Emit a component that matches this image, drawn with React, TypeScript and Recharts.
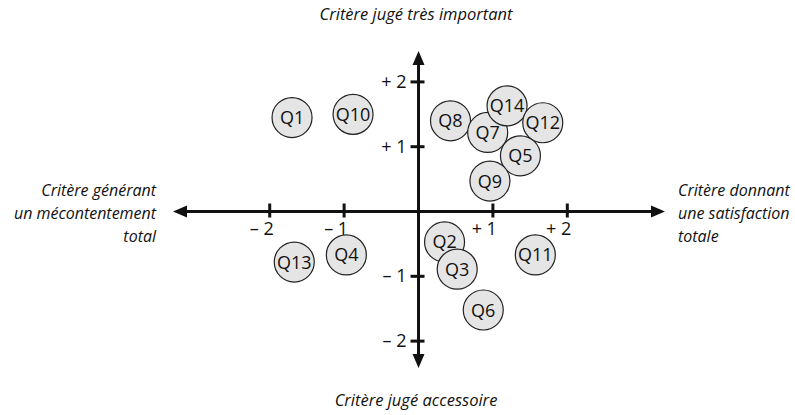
import { ScatterChart, Scatter, XAxis, YAxis, ReferenceLine } from 'recharts'

// Positions des critères (satisfaction en x, importance en y)
const questions = ['Q1', 'Q10', 'Q13', 'Q4', 'Q8', 'Q7', 'Q14', 'Q12', 'Q5', 'Q9', 'Q2', 'Q3', 'Q11', 'Q6']
const satisfaction = [-1.7, -0.88, -1.67, -0.97, 0.43, 0.93, 1.19, 1.67, 1.37, 0.96, 0.35, 0.52, 1.57, 0.87]
const importance = [1.45, 1.5, -0.78, -0.67, 1.4, 1.22, 1.63, 1.37, 0.86, 0.47, -0.47, -0.89, -0.67, -1.52]

const xTickValues = [-2, -1, 1, 2]
const xTickLabels = ['– 2', '– 1', '+ 1', '+ 2']
const yTickValues = [2, 1, -1, -2]
const yTickLabels = ['+ 2', '+ 1', '– 1', '– 2']

const FONT = '"Open Sans", "Noto Sans", sans-serif'
const INK = '#111'

const points = questions.map((q, i) => ({ q, x: satisfaction[i], y: importance[i] }))
const xTicks = xTickValues.map((v, i) => ({ x: v, y: 0, label: xTickLabels[i] }))
const yTicks = yTickValues.map((v, i) => ({ x: 0, y: v, label: yTickLabels[i] }))

interface LineShapeProps {
  x1: number
  y1: number
  x2: number
  y2: number
}

interface PointShapeProps {
  cx: number
  cy: number
  payload: { q?: string; label?: string }
}

const ARROW = 14
const HALF = 6

function HorizontalAxis({ x1, y1, x2 }: LineShapeProps) {
  return (
    <g>
      <line x1={x1 + ARROW - 2} y1={y1} x2={x2 - ARROW + 2} y2={y1} stroke={INK} strokeWidth={3} />
      <polygon points={`${x1},${y1} ${x1 + ARROW},${y1 - HALF} ${x1 + ARROW},${y1 + HALF}`} fill={INK} />
      <polygon points={`${x2},${y1} ${x2 - ARROW},${y1 - HALF} ${x2 - ARROW},${y1 + HALF}`} fill={INK} />
    </g>
  )
}

function VerticalAxis({ x1, y1, y2 }: LineShapeProps) {
  const top = Math.min(y1, y2)
  const bottom = Math.max(y1, y2)
  return (
    <g>
      <line x1={x1} y1={top + ARROW - 2} x2={x1} y2={bottom - ARROW + 2} stroke={INK} strokeWidth={3} />
      <polygon points={`${x1},${top} ${x1 - HALF},${top + ARROW} ${x1 + HALF},${top + ARROW}`} fill={INK} />
      <polygon points={`${x1},${bottom} ${x1 - HALF},${bottom - ARROW} ${x1 + HALF},${bottom - ARROW}`} fill={INK} />
    </g>
  )
}

function XTick({ cx, cy, payload }: PointShapeProps) {
  return (
    <g>
      <line x1={cx} y1={cy - 8} x2={cx} y2={cy + 6} stroke={INK} strokeWidth={3} />
      <text x={cx + 4} y={cy + 23.5} textAnchor="end" fontFamily={FONT} fontSize={18} fill={INK}>
        {payload.label}
      </text>
    </g>
  )
}

function YTick({ cx, cy, payload }: PointShapeProps) {
  return (
    <g>
      <line x1={cx - 8} y1={cy} x2={cx + 6} y2={cy} stroke={INK} strokeWidth={3} />
      <text x={cx - 12} y={cy + 6} textAnchor="end" fontFamily={FONT} fontSize={18} fill={INK}>
        {payload.label}
      </text>
    </g>
  )
}

function Bubble({ cx, cy, payload }: PointShapeProps) {
  return (
    <g>
      <circle cx={cx} cy={cy} r={20} fill="#e5e5e5" stroke="#222" strokeWidth={1.2} />
      <text x={cx} y={cy + 6.5} textAnchor="middle" fontFamily={FONT} fontSize={18} fill={INK}>
        {payload.q}
      </text>
    </g>
  )
}

const titleText = { fontFamily: FONT, fontSize: 16.5, fontStyle: 'italic', fill: INK } as const
const sideText = { ...titleText, fontSize: 16 } as const

export default function App() {
  return (
    <div style={{ position: 'absolute', left: 0, top: 0, background: '#fff' }}>
      <ScatterChart width={795} height={415} margin={{ top: 51, right: 130, bottom: 47, left: 173 }}>
        <XAxis type="number" dataKey="x" domain={[-3.3, 3.313]} hide />
        <YAxis type="number" dataKey="y" domain={[-2.415, 2.477]} hide />
        <ReferenceLine y={0} shape={(p: LineShapeProps) => <HorizontalAxis {...p} />} />
        <ReferenceLine x={0} shape={(p: LineShapeProps) => <VerticalAxis {...p} />} />
        <Scatter data={xTicks} shape={(p: PointShapeProps) => <XTick {...p} />} isAnimationActive={false} />
        <Scatter data={yTicks} shape={(p: PointShapeProps) => <YTick {...p} />} isAnimationActive={false} />
        <Scatter data={points} shape={(p: PointShapeProps) => <Bubble {...p} />} isAnimationActive={false} />
        <text x={416} y={20} textAnchor="middle" {...titleText}>Critère jugé très important</text>
        <text x={416} y={406} textAnchor="middle" {...titleText}>Critère jugé accessoire</text>
        <text textAnchor="end" {...sideText}>
          <tspan x={156} y={196}>Critère générant</tspan>
          <tspan x={156} y={219}>un mécontentement</tspan>
          <tspan x={156} y={242}>total</tspan>
        </text>
        <text textAnchor="start" {...sideText}>
          <tspan x={678} y={196}>Critère donnant</tspan>
          <tspan x={678} y={219}>une satisfaction</tspan>
          <tspan x={678} y={242}>totale</tspan>
        </text>
      </ScatterChart>
    </div>
  )
}
